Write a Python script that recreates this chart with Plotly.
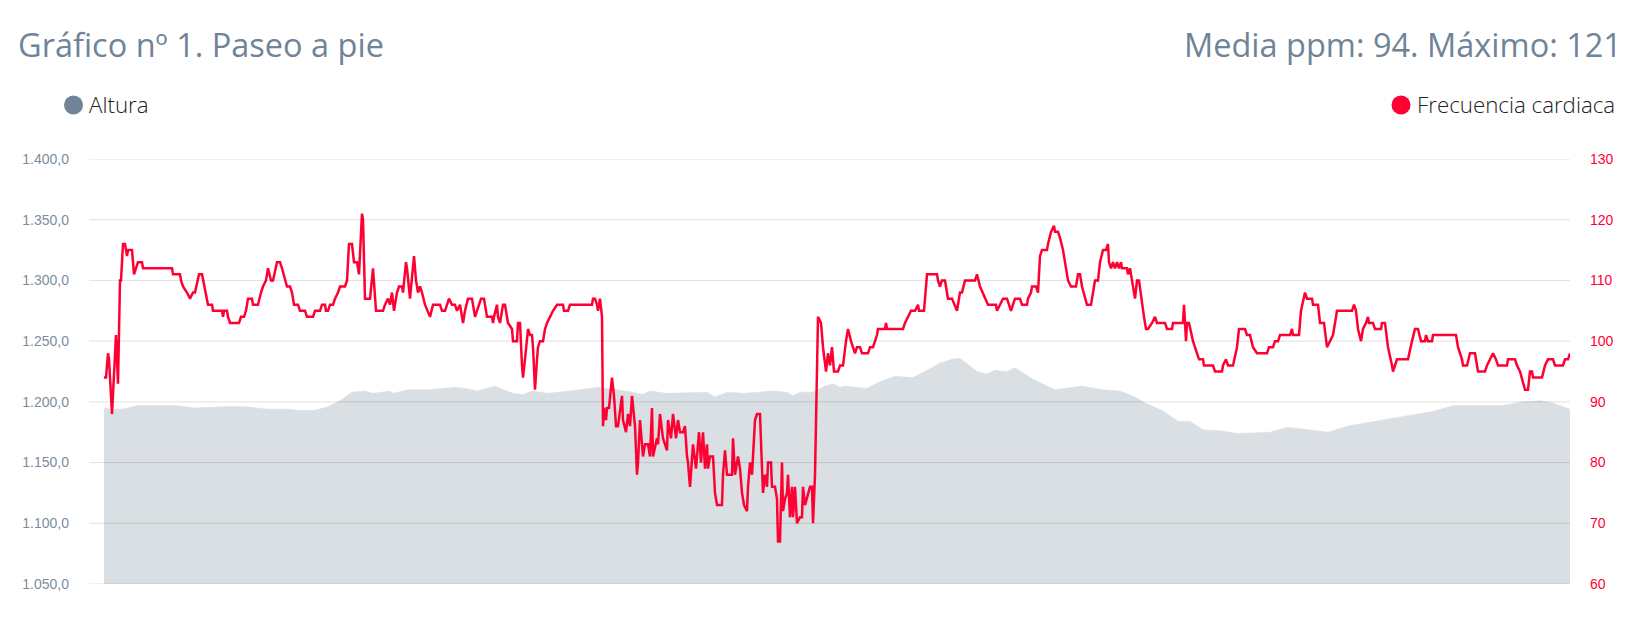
import plotly.graph_objects as go

# Muestras del paseo (índice de muestra) y frecuencia cardiaca (ppm)
hr_t = [0, 2, 4, 5, 8, 12, 14, 16, 17, 19, 21, 23, 24, 28, 30, 32, 34, 38, 39, 68,
        69, 76, 77, 79, 83, 86, 89, 91, 95, 98, 102, 104, 108, 109, 118, 119, 120, 123, 124, 126,
        135, 137, 140, 142, 144, 148, 149, 154, 157, 159, 162, 164, 167, 169, 173, 176, 178, 183, 186, 188,
        190, 194, 196, 201, 203, 209, 211, 216, 218, 221, 222, 224, 226, 229, 231, 234, 236, 241, 243, 245,
        248, 250, 253, 255, 258, 259, 261, 266, 269, 272, 279, 281, 284, 286, 288, 290, 293, 295, 298, 299,
        302, 303, 306, 308, 310, 312, 314, 316, 318, 321, 326, 329, 336, 338, 341, 345, 348, 351, 353, 356,
        359, 361, 364, 368, 371, 373, 377, 380, 383, 388, 389, 390, 393, 394, 396, 399, 401, 404, 408, 409,
        413, 414, 416, 418, 419, 421, 423, 424, 426, 428, 429, 431, 433, 434, 436, 439, 441, 443, 446, 449,
        453, 459, 460, 464, 466, 488, 489, 491, 493, 494, 496, 498, 499, 500, 502, 503, 505, 507, 508, 510,
        512, 514, 516, 518, 519, 522, 524, 526, 528, 531, 533, 534, 536, 539, 541, 544, 546, 548, 549, 553,
        554, 556, 559, 563, 564, 567, 569, 572, 574, 576, 579, 581, 583, 584, 586, 588, 589, 592, 593, 595,
        597, 599, 601, 603, 604, 606, 609, 611, 613, 618, 619, 621, 623, 628, 629, 631, 634, 636, 638, 640,
        643, 644, 646, 648, 649, 651, 653, 656, 658, 659, 661, 663, 664, 667, 668, 671, 673, 674, 676, 678,
        679, 681, 683, 684, 686, 688, 689, 691, 693, 696, 698, 699, 701, 704, 706, 708, 709, 711, 713, 714,
        717, 719, 722, 724, 726, 728, 730, 734, 736, 739, 742, 744, 747, 749, 751, 753, 756, 758, 764, 766,
        769, 773, 774, 781, 782, 783, 799, 801, 804, 807, 811, 814, 815, 820, 823, 833, 834, 836, 838, 841,
        844, 848, 853, 856, 858, 861, 871, 873, 876, 881, 884, 892, 893, 896, 899, 903, 907, 909, 911, 916,
        918, 923, 924, 927, 928, 932, 934, 936, 938, 943, 944, 947, 950, 951, 954, 956, 959, 964, 967, 972,
        974, 976, 978, 983, 987, 991, 994, 996, 999, 1002, 1004, 1005, 1007, 1009, 1011, 1013, 1015, 1017, 1018, 1023,
        1024, 1026, 1028, 1031, 1033, 1035, 1040, 1042, 1044, 1048, 1051, 1053, 1061, 1063, 1068, 1069, 1079, 1080, 1082, 1083,
        1085, 1089, 1093, 1095, 1099, 1100, 1109, 1111, 1118, 1119, 1122, 1124, 1129, 1133, 1135, 1141, 1143, 1146, 1149, 1153,
        1163, 1165, 1169, 1171, 1174, 1176, 1186, 1188, 1189, 1195, 1197, 1201, 1203, 1208, 1209, 1214, 1216, 1220, 1223, 1226,
        1229, 1233, 1248, 1250, 1252, 1254, 1257, 1259, 1262, 1264, 1265, 1269, 1271, 1277, 1278, 1281, 1284, 1288, 1289, 1293,
        1304, 1308, 1311, 1314, 1317, 1321, 1322, 1324, 1328, 1329, 1352, 1354, 1358, 1359, 1363, 1366, 1371, 1374, 1381, 1383,
        1386, 1389, 1392, 1394, 1403, 1404, 1411, 1413, 1416, 1419, 1421, 1424, 1426, 1428, 1429, 1438, 1441, 1444, 1449, 1451,
        1459, 1461, 1464, 1466]
hr_ppm = [94, 94, 98, 97, 88, 101, 93, 110, 110, 116, 116, 114, 115, 115, 111, 112, 113, 113, 112, 112,
          111, 111, 110, 109, 108, 107, 108, 108, 111, 111, 108, 106, 106, 105, 105, 104, 105, 105, 104, 103,
          103, 104, 104, 105, 107, 107, 106, 106, 108, 109, 110, 112, 110, 110, 113, 113, 112, 109, 109, 108,
          106, 106, 105, 105, 104, 104, 105, 105, 106, 106, 105, 105, 106, 106, 107, 108, 109, 109, 110, 116,
          116, 113, 113, 111, 121, 120, 107, 107, 112, 105, 105, 106, 107, 106, 108, 105, 108, 109, 109, 108,
          113, 112, 107, 110, 114, 110, 108, 109, 108, 106, 104, 106, 106, 105, 105, 107, 106, 106, 105, 106,
          103, 105, 107, 107, 104, 105, 107, 107, 104, 104, 103, 104, 106, 104, 103, 106, 106, 103, 102, 100,
          100, 103, 103, 96, 94, 97, 101, 102, 101, 101, 99, 92, 97, 99, 100, 100, 102, 103, 104, 105,
          106, 106, 105, 105, 106, 106, 107, 107, 106, 105, 107, 104, 86, 89, 87, 89, 89, 92, 94, 91,
          86, 86, 89, 91, 87, 85, 88, 86, 91, 86, 78, 80, 87, 81, 83, 83, 81, 89, 81, 84,
          83, 88, 84, 82, 87, 84, 88, 84, 87, 85, 85, 86, 81, 80, 76, 80, 83, 79, 81, 85,
          80, 85, 79, 83, 79, 81, 81, 75, 73, 73, 78, 82, 78, 78, 84, 78, 81, 79, 75, 73,
          72, 76, 80, 78, 81, 87, 88, 88, 79, 75, 78, 76, 80, 80, 76, 76, 74, 67, 67, 80,
          72, 74, 75, 78, 71, 76, 71, 76, 70, 71, 71, 76, 73, 75, 76, 76, 70, 78, 95, 104,
          103, 99, 95, 98, 96, 99, 95, 95, 96, 96, 100, 102, 100, 99, 98, 99, 99, 98, 98, 99,
          99, 101, 102, 102, 103, 102, 102, 103, 104, 105, 105, 106, 105, 105, 111, 111, 110, 109, 110, 110,
          107, 107, 105, 108, 108, 110, 110, 111, 109, 107, 106, 106, 105, 106, 107, 107, 105, 106, 107, 107,
          106, 106, 107, 108, 109, 109, 108, 114, 115, 115, 116, 118, 119, 118, 118, 117, 115, 110, 109, 109,
          111, 111, 109, 106, 106, 110, 110, 113, 115, 115, 116, 113, 112, 113, 112, 113, 112, 113, 112, 112,
          111, 112, 110, 107, 110, 110, 104, 102, 102, 103, 104, 103, 103, 102, 102, 103, 103, 106, 100, 103,
          103, 100, 98, 97, 97, 96, 96, 95, 95, 96, 97, 96, 96, 99, 102, 102, 101, 101, 99, 98,
          98, 99, 99, 100, 100, 101, 101, 102, 101, 101, 105, 108, 107, 107, 106, 106, 103, 103, 99, 100,
          101, 105, 105, 106, 105, 102, 100, 102, 103, 104, 103, 103, 102, 102, 103, 103, 99, 96, 95, 97,
          97, 100, 102, 102, 100, 100, 101, 100, 100, 101, 101, 99, 97, 96, 96, 98, 98, 95, 95, 96,
          97, 98, 97, 96, 96, 97, 97, 96, 95, 93, 92, 92, 95, 95, 94, 94, 96, 97, 97, 96,
          96, 97, 97, 98]

# Altura (m) en las mismas muestras
alt_t = [0, 8, 18, 34, 54, 71, 91, 118, 141, 164, 184, 194, 211, 224, 238, 248, 261, 269, 286, 289,
         304, 324, 351, 362, 373, 391, 409, 419, 429, 443, 466, 494, 513, 529, 538, 546, 563, 589, 603, 611,
         623, 639, 656, 669, 683, 689, 696, 709, 721, 729, 736, 741, 763, 774, 791, 809, 821, 836, 848, 856,
         873, 883, 891, 903, 911, 928, 951, 971, 978, 998, 1016, 1031, 1041, 1058, 1074, 1086, 1099, 1119, 1133, 1166,
         1183, 1206, 1224, 1243, 1269, 1299, 1329, 1349, 1369, 1399, 1419, 1436, 1449, 1466]
alt_m = [1195, 1194, 1194, 1197, 1197, 1197, 1195, 1196, 1196, 1194, 1194, 1193, 1193, 1196, 1202, 1208, 1209, 1207, 1209, 1207,
         1210, 1210, 1212, 1211, 1209, 1213, 1207, 1206, 1209, 1207, 1209, 1212, 1210, 1208, 1206, 1209, 1207, 1208, 1208, 1204,
         1208, 1207, 1208, 1209, 1208, 1205, 1208, 1208, 1213, 1215, 1212, 1213, 1211, 1216, 1221, 1220, 1225, 1232, 1235, 1236,
         1225, 1223, 1226, 1225, 1228, 1219, 1210, 1212, 1213, 1210, 1209, 1204, 1199, 1193, 1184, 1184, 1177, 1176, 1174, 1175,
         1179, 1177, 1175, 1180, 1184, 1188, 1192, 1197, 1197, 1197, 1200, 1201, 1199, 1194]

alt_ticks = [1050, 1100, 1150, 1200, 1250, 1300, 1350, 1400]
hr_ticks = [60, 70, 80, 90, 100, 110, 120, 130]

RED = '#FF0033'
SLATE = '#6F8497'
W, H = 1643, 639
OFF = 8  # margen del body de la página
L, R, T, B = 81, 81, 151, 63


def px_x(p):
    return (p - OFF - L) / (W - L - R)


def px_y(p):
    return (H - B - (p - OFF)) / (H - T - B)


fig = go.Figure()

fig.add_trace(go.Scatter(x=alt_t, y=alt_m, mode='lines', fill='tozeroy',
                         line=dict(color='#DADFE3', width=0.5),
                         fillcolor='#DADFE3', name='Altura', yaxis='y'))

fig.add_trace(go.Scatter(x=hr_t, y=hr_ppm, mode='lines',
                         line=dict(color=RED, width=2.5),
                         name='Frecuencia cardiaca', yaxis='y2'))

shapes = []
for v in alt_ticks:
    shapes.append(dict(type='line', xref='paper', yref='y', x0=0, x1=1, y0=v, y1=v,
                       line=dict(color='rgba(0,0,0,0.12)', width=1), layer='above'))

# marcadores de la leyenda
for cx, col in [(73.5, SLATE), (1401, RED)]:
    shapes.append(dict(type='circle', xref='paper', yref='paper',
                       xsizemode='pixel', ysizemode='pixel',
                       xanchor=px_x(cx), yanchor=px_y(105),
                       x0=-9.5, x1=9.5, y0=-9.5, y1=9.5,
                       fillcolor=col, line=dict(width=0)))

annotations = [
    dict(text='Gráfico nº 1. Paseo a pie', xref='paper', yref='paper',
         x=px_x(16), y=px_y(44), xanchor='left', yanchor='middle', showarrow=False,
         font=dict(family='Open Sans', size=32.5, color=SLATE)),
    dict(text='Media ppm: 94. Máximo: 121', xref='paper', yref='paper',
         x=px_x(1624), y=px_y(44), xanchor='right', yanchor='middle', showarrow=False,
         font=dict(family='Open Sans', size=32.5, color=SLATE)),
    dict(text='Altura', xref='paper', yref='paper',
         x=px_x(87), y=px_y(104), xanchor='left', yanchor='middle', showarrow=False,
         font=dict(family='Open Sans', size=22.3, color='#222222', weight=300)),
    dict(text='Frecuencia cardiaca', xref='paper', yref='paper',
         x=px_x(1415), y=px_y(104), xanchor='left', yanchor='middle', showarrow=False,
         font=dict(family='Open Sans', size=22.3, color='#222222', weight=300)),
]

fig.update_layout(
    width=W, height=H,
    margin=dict(l=L, r=R, t=T, b=B, autoexpand=False),
    plot_bgcolor='white', paper_bgcolor='white',
    showlegend=False,
    separators=',.',
    shapes=shapes,
    annotations=annotations,
    xaxis=dict(range=[-15, 1466], visible=False),
    yaxis=dict(range=[1050, 1400], tickvals=alt_ticks, tickformat=',.1f',
               showgrid=False, zeroline=False, ticks='', ticklabelstandoff=19,
               tickfont=dict(family='Liberation Sans', size=14, color='#7B8DA1')),
    yaxis2=dict(range=[60, 130], tickvals=hr_ticks, overlaying='y', side='right',
                showgrid=False, zeroline=False, ticks='', ticklabelstandoff=19,
                tickfont=dict(family='Liberation Sans', size=14, color=RED)),
)

fig.write_html("out.html")
